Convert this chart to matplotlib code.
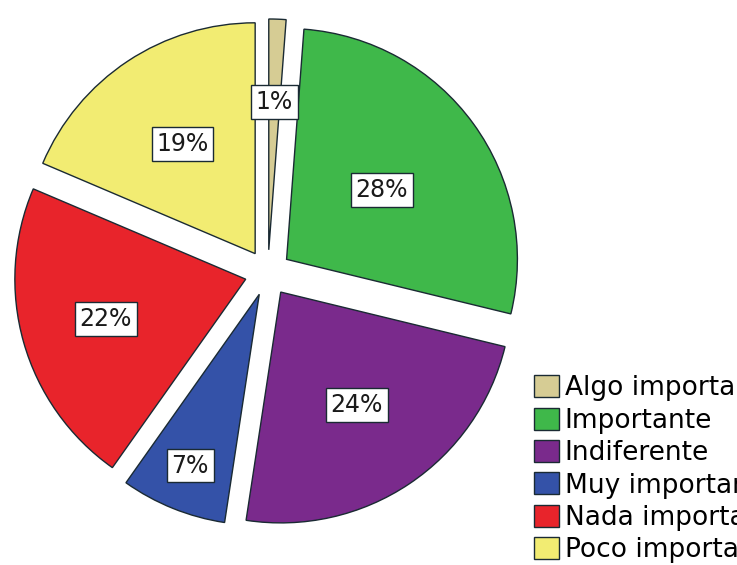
import matplotlib.pyplot as plt
import numpy as np

# categorias e porcentagens
categorias = ['Algo importante', 'Importante', 'Indiferente',
              'Muy importante', 'Nada importante', 'Poco importante']
valores = [1.2, 27.6, 23.6, 7.4, 21.6, 18.6]
cores = ['#d6cc94', '#3fb84a', '#7a2a8c', '#3452a8', '#e8242b', '#f2ec72']
explode = [0.1, 0.1, 0.1, 0.1, 0.1, 0.1]
# distancia radial de cada rotulo (fração do raio)
dist_rotulos = [0.64, 0.51, 0.59, 0.8, 0.63, 0.57]

fig = plt.figure(figsize=(7.37, 5.65), dpi=100)
ax = fig.add_axes([-0.003, 0.039, 0.733, 0.956])

wedges, texts, autotexts = ax.pie(
    valores, colors=cores, explode=explode, startangle=90, counterclock=False,
    autopct='%.0f%%', pctdistance=0.6,
    wedgeprops=dict(edgecolor='#1a2a33', linewidth=1.0),
    textprops=dict(fontsize=17, color='#1a1a1a'))

# reposiciona os rotulos dentro de cada fatia
for w, t, e, d in zip(wedges, autotexts, explode, dist_rotulos):
    ang = np.deg2rad((w.theta1 + w.theta2) / 2)
    t.set_position(((e + d) * np.cos(ang), (e + d) * np.sin(ang)))
    t.set_bbox(dict(boxstyle='square,pad=0.2', facecolor='white',
                    edgecolor='#1a2a33', linewidth=1.0))

ax.set_xlim(-1.17, 1.17)
ax.set_ylim(-1.17, 1.17)
ax.set_aspect('equal')
ax.axis('off')

fig.legend(wedges, categorias, loc='lower left', bbox_to_anchor=(0.725, 0.003),
           frameon=False, fontsize=19, handlelength=0.95, handleheight=0.9,
           handletextpad=0.2, labelspacing=0.24, borderpad=0, borderaxespad=0)

fig.savefig('out.png', dpi=100)
